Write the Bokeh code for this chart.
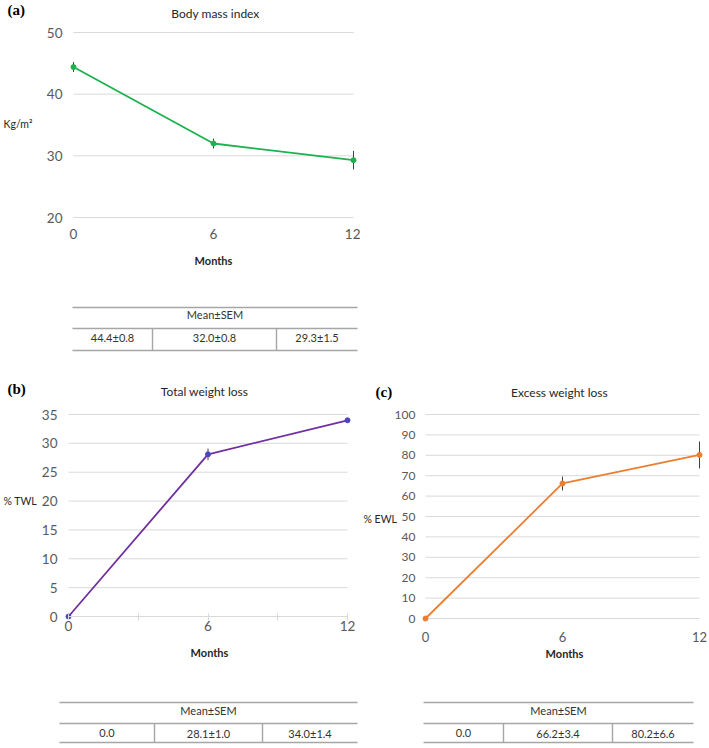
from bokeh.plotting import figure
from bokeh.models import Range1d, Label, FixedTicker
from bokeh.layouts import column, row
from bokeh.embed import file_html
from bokeh.resources import INLINE
from bokeh.core.properties import value

# ---------------- data ----------------
months = [0, 6, 12]
month_ticks = [0, 6, 12]
twl_minor_ticks = [3, 9]

bmi_mean = [44.4, 32.0, 29.3]
bmi_sem = [0.8, 0.8, 1.5]
bmi_yticks = [20, 30, 40, 50]

twl_mean = [0.0, 28.1, 34.0]
twl_sem = [0.0, 1.0, 1.4]
twl_bar_visible = [True, True, False]
twl_yticks = [0, 5, 10, 15, 20, 25, 30, 35]

ewl_mean = [0.0, 66.2, 80.2]
ewl_sem = [0.0, 3.4, 6.6]
ewl_yticks = [0, 10, 20, 30, 40, 50, 60, 70, 80, 90, 100]

# ---------------- style ----------------
SANS = "Lato"
SERIF = "Liberation Serif"
GRID = "#d9d9d9"
TICK_COLOR = "#595959"
TEXT_DARK = "#262626"
TABLE_LINE = "#a6a6a6"


def chart(W, H, x0, x12, ytop, ybot, ymin, ymax, yticks, ytick_size, xtick_size,
          xlab_std, ylab_std):
    """Figure whose frame fills the canvas; data 0..12 maps to pixels x0..x12."""
    ppx = (x12 - x0) / 12.0
    ppy = (ybot - ytop) / float(ymax - ymin)
    p = figure(width=W, height=H, min_border=0,
               x_range=Range1d(-x0 / ppx, (W - x0) / ppx),
               y_range=Range1d(ymax - (H - ytop) / ppy, ymax + ytop / ppy),
               output_backend="svg", toolbar_location=None)
    p.outline_line_color = None
    p.background_fill_color = "white"
    p.border_fill_color = "white"
    p.xgrid.visible = False
    p.ygrid.visible = False

    # gridlines at the y ticks, spanning month 0..12
    p.segment(x0=[months[0]] * len(yticks), x1=[months[-1]] * len(yticks),
              y0=yticks, y1=yticks, line_color=GRID, line_width=1)

    for ax in (p.xaxis[0], p.yaxis[0]):
        ax.axis_line_color = None
        ax.major_tick_line_color = None
        ax.minor_tick_line_color = None
        ax.major_tick_in = 0
        ax.major_tick_out = 0
        ax.minor_tick_in = 0
        ax.minor_tick_out = 0
        ax.major_label_text_font = SANS
        ax.major_label_text_color = TICK_COLOR
    p.yaxis.major_label_text_font_size = ytick_size
    p.xaxis.major_label_text_font_size = xtick_size
    p.xaxis.ticker = FixedTicker(ticks=month_ticks)
    p.yaxis.ticker = FixedTicker(ticks=yticks)
    p.xaxis.fixed_location = ymin
    p.yaxis.fixed_location = 0
    p.xaxis.major_label_standoff = xlab_std
    p.yaxis.major_label_standoff = ylab_std

    def dx(lx):
        return (lx - x0) / ppx

    def dy(ly):
        return ymax - (ly - ytop) / ppy

    return p, dx, dy


def add_series(p, mean, sem, color, marker_color, shown=None):
    if shown is None:
        shown = [True] * len(mean)
    xs = [m for m, s in zip(months, shown) if s]
    lo = [v - e for v, e, s in zip(mean, sem, shown) if s]
    hi = [v + e for v, e, s in zip(mean, sem, shown) if s]
    p.line(months, mean, line_color=color, line_width=1.8)
    p.segment(x0=xs, x1=xs, y0=lo, y1=hi, line_color="#404040", line_width=1)
    p.scatter(months, mean, size=5, fill_color=marker_color, line_color=marker_color)


def texts(p, dx, dy, panel, panel_xy, title, title_xy, ylab, ylab_xy, months_xy):
    p.add_layout(Label(x=dx(panel_xy[0]), y=dy(panel_xy[1]), text=panel,
                       text_font=SERIF, text_font_style="bold", text_font_size="15px",
                       text_color="black", text_align="left", text_baseline="middle"))
    p.add_layout(Label(x=dx(title_xy[0]), y=dy(title_xy[1]), text=title,
                       text_font=SANS, text_font_size="12px",
                       text_color=TEXT_DARK, text_align="center", text_baseline="middle"))
    p.add_layout(Label(x=dx(ylab_xy[0]), y=dy(ylab_xy[1]), text=ylab,
                       text_font=SANS, text_font_size="10.5px",
                       text_color=TEXT_DARK, text_align="left", text_baseline="middle"))
    p.add_layout(Label(x=dx(months_xy[0]), y=dy(months_xy[1]), text="Months",
                       text_font=SANS, text_font_style="bold", text_font_size="11px",
                       text_color=TEXT_DARK, text_align="center", text_baseline="middle"))


def fmt(m, s):
    return "%.1f" % m if s == 0 else "%.1f\u00b1%.1f" % (m, s)


def table(W, H, left, d1, d2, right, lines_y, head_y, val_y, mean, sem):
    p = figure(width=W, height=H, x_range=Range1d(0, W), y_range=Range1d(H, 0),
               x_axis_type=None, y_axis_type=None, min_border=0,
               output_backend="svg", toolbar_location=None)
    p.outline_line_color = None
    p.xgrid.visible = False
    p.ygrid.visible = False
    p.segment(x0=[left] * 3, x1=[right] * 3, y0=lines_y, y1=lines_y,
              line_color=TABLE_LINE, line_width=1.6)
    p.segment(x0=[d1, d2], x1=[d1, d2], y0=[lines_y[1]] * 2, y1=[lines_y[2]] * 2,
              line_color=TABLE_LINE, line_width=1.4)
    p.text(x=[(left + right) / 2], y=[head_y], text=["Mean\u00b1SEM"],
           text_font=value(SANS), text_font_size="11px", text_color="#333333",
           text_align="center", text_baseline="middle")
    centers = [(left + d1) / 2, (d1 + d2) / 2, (d2 + right) / 2]
    p.text(x=centers, y=[val_y] * 3, text=[fmt(m, s) for m, s in zip(mean, sem)],
           text_font=value(SANS), text_font_size="11px", text_color="#333333",
           text_align="center", text_baseline="middle")
    return p


# ---------------- panel (a) ----------------
pa, ax_, ay_ = chart(360, 298, 73, 353, 32, 217, 20, 50, bmi_yticks, "13.5px", "13.5px", 11, 11)
add_series(pa, bmi_mean, bmi_sem, "#1db14f", "#1db14f")
texts(pa, ax_, ay_, "(a)", (7, 9), "Body mass index", (215, 12.5), "Kg/m\u00b2", (3, 123), (213, 260))
ta = table(360, 62, 72, 152, 276, 357, [9, 30, 52], 16, 38.5, bmi_mean, bmi_sem)

# ---------------- panel (b) ----------------
pb, bx_, by_ = chart(360, 334, 68, 347, 54, 256, 0, 35, twl_yticks, "13.5px", "13.5px", 0, 11)
pb.xaxis.ticker = FixedTicker(ticks=month_ticks, minor_ticks=twl_minor_ticks)
pb.xaxis.axis_line_color = GRID
pb.xaxis.bounds = (months[0], months[-1])
pb.xaxis.major_tick_line_color = GRID
pb.xaxis.minor_tick_line_color = GRID
pb.xaxis.major_tick_in = 3
pb.xaxis.major_tick_out = 4
pb.xaxis.minor_tick_in = 3
pb.xaxis.minor_tick_out = 4
add_series(pb, twl_mean, twl_sem, "#7030a0", "#4b45c4", twl_bar_visible)
texts(pb, bx_, by_, "(b)", (7, 28), "Total weight loss", (204, 31), "% TWL", (3, 140), (209, 292))
tb = table(360, 54, 59, 154, 262, 357, [8, 29, 48], 16, 38.5, twl_mean, twl_sem)

# ---------------- panel (c) ----------------
pc, cx_, cy_ = chart(349, 334, 65, 339, 54, 258, 0, 100, ewl_yticks, "12px", "13px", 13, 10)
add_series(pc, ewl_mean, ewl_sem, "#ed7d31", "#ed7d31")
texts(pc, cx_, cy_, "(c)", (15, 31), "Excess weight loss", (199, 32), "% EWL", (3, 158), (204, 293))
tc = table(349, 54, 63, 143, 252, 333, [8, 29, 48], 16, 38.5, ewl_mean, ewl_sem)

root = column(pa, ta, row(pb, pc), row(tb, tc))

open("out.html", "w").write(file_html(root, INLINE))
